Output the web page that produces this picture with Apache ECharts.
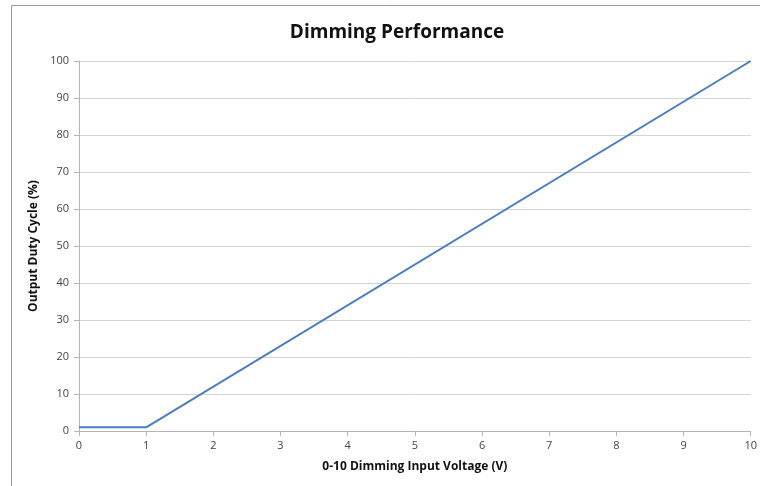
<!DOCTYPE html>
<html>
<head>
<meta charset="utf-8">
<script src="https://cdn.jsdelivr.net/npm/echarts@6/dist/echarts.min.js"></script>
<style>
html,body{margin:0;padding:0;background:#fff;}
#chart{width:760px;height:486px;}
</style>
</head>
<body>
<div id="chart"></div>
<script>
var voltage = [0, 1, 10];
var dutyCycle = [1, 1, 100];
var xTicks = [0,1,2,3,4,5,6,7,8,9,10];
var yTicks = [0,10,20,30,40,50,60,70,80,90,100];

var chart = echarts.init(document.getElementById('chart'), null, {renderer:'canvas'});
var pts = voltage.map(function(v,i){return [v, dutyCycle[i]];});
chart.setOption({
  animation:false,
  backgroundColor:'#fff',
  title:{
    text:'Dimming Performance',
    left:392, top:18, textAlign:'center',
    textStyle:{fontFamily:'Open Sans', fontWeight:'bold', fontSize:19, color:'#111'}
  },
  graphic:[
    {type:'line', shape:{x1:11.5,y1:5.5,x2:760,y2:5.5}, style:{stroke:'#9a9a9a', lineWidth:1}},
    {type:'line', shape:{x1:11.5,y1:5.5,x2:11.5,y2:486}, style:{stroke:'#9a9a9a', lineWidth:1}}
  ],
  grid:{left:79, right:7, top:61, bottom:55},
  xAxis:{
    type:'value', min:0, max:10, interval:1,
    name:'0-10 Dimming Input Voltage (V)', nameLocation:'middle', nameGap:30,
    nameTextStyle:{fontFamily:'Open Sans', fontWeight:'bold', fontSize:12, color:'#111'},
    axisLine:{show:true, lineStyle:{color:'#b5b5b5', width:1}},
    axisTick:{show:true, length:5, lineStyle:{color:'#b5b5b5'}},
    axisLabel:{fontFamily:'Open Sans', fontSize:11, color:'#444', margin:9},
    splitLine:{show:false}
  },
  yAxis:{
    type:'value', min:0, max:100, interval:10,
    name:'Output Duty Cycle (%)', nameLocation:'middle', nameGap:37,
    nameTextStyle:{fontFamily:'Open Sans', fontWeight:'bold', fontSize:12, color:'#111'},
    axisLine:{show:true, lineStyle:{color:'#b5b5b5', width:1}},
    axisTick:{show:true, length:5, lineStyle:{color:'#b5b5b5'}},
    axisLabel:{fontFamily:'Open Sans', fontSize:11, color:'#444', margin:10},
    splitLine:{show:true, lineStyle:{color:'#d4d4d4', width:1}}
  },
  series:[{
    type:'line', data:pts, symbol:'none',
    lineStyle:{color:'#4a7ebb', width:2}
  }]
});
</script>
</body>
</html>
